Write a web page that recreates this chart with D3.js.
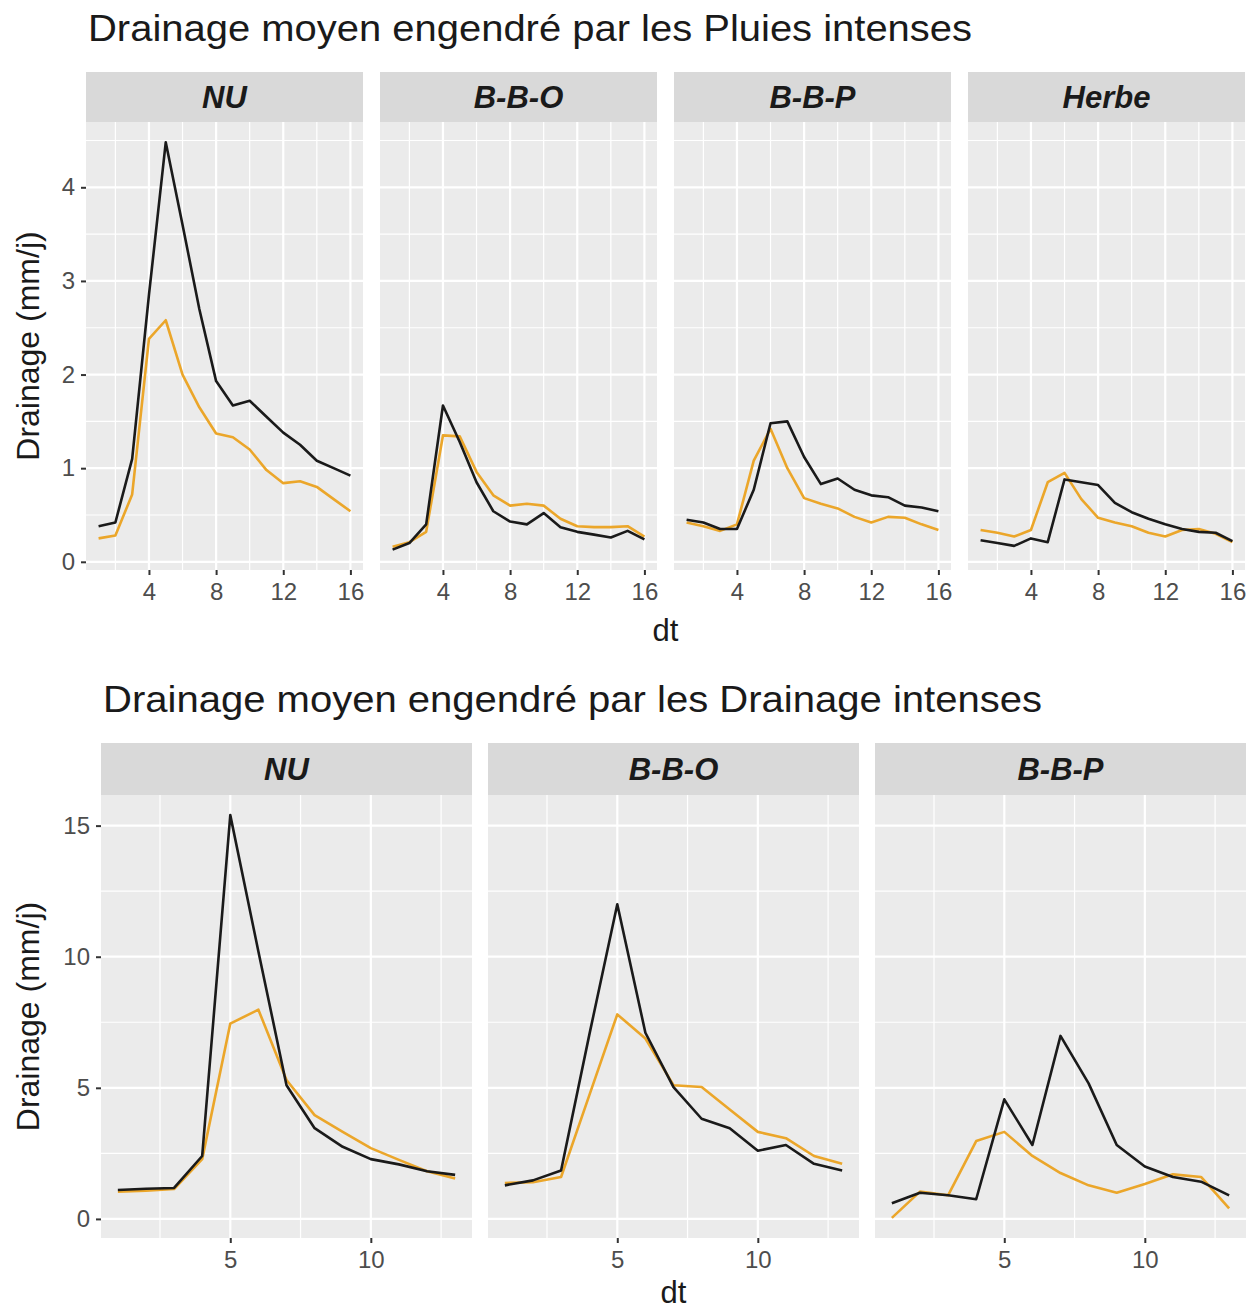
<!DOCTYPE html>
<html><head><meta charset="utf-8">
<script src="https://cdn.jsdelivr.net/npm/d3@7"></script>
<style>body{margin:0;background:#fff}svg{display:block;font-family:"Liberation Sans",Arial,sans-serif}</style>
</head><body>
<svg id="chart" width="1255" height="1315"></svg>
<script>
// ---------- DATA ----------
const titleTop = "Drainage moyen engendré par les Pluies intenses";
const titleBottom = "Drainage moyen engendré par les Drainage intenses";
const yTitle = "Drainage (mm/j)";
const xTitle = "dt";

const topFacets = ["NU", "B-B-O", "B-B-P", "Herbe"];
const topDt = [1,2,3,4,5,6,7,8,9,10,11,12,13,14,15,16];
const topBlack = {
  "NU":    [0.38,0.42,1.10,2.85,4.48,3.60,2.70,1.93,1.67,1.72,1.55,1.38,1.25,1.08,1.00,0.92],
  "B-B-O": [0.13,0.20,0.40,1.67,1.28,0.85,0.54,0.43,0.40,0.52,0.37,0.32,0.29,0.26,0.33,0.24],
  "B-B-P": [0.45,0.42,0.35,0.35,0.77,1.48,1.50,1.12,0.83,0.89,0.77,0.71,0.69,0.60,0.58,0.54],
  "Herbe": [0.23,0.20,0.17,0.25,0.21,0.88,0.85,0.82,0.63,0.53,0.46,0.40,0.35,0.32,0.31,0.22]
};
const topOrange = {
  "NU":    [0.25,0.28,0.72,2.38,2.58,2.00,1.65,1.37,1.33,1.20,0.98,0.84,0.86,0.80,0.67,0.54],
  "B-B-O": [0.16,0.21,0.32,1.35,1.34,0.96,0.71,0.60,0.62,0.60,0.46,0.38,0.37,0.37,0.38,0.27],
  "B-B-P": [0.42,0.38,0.33,0.40,1.08,1.42,1.00,0.68,0.62,0.57,0.48,0.42,0.48,0.47,0.40,0.34],
  "Herbe": [0.34,0.31,0.27,0.34,0.85,0.95,0.67,0.47,0.42,0.38,0.31,0.27,0.34,0.35,0.30,0.21]
};
const topXTicks = [4,8,12,16];
const topXMinor = [2,6,10,14];
const topYTicks = [0,1,2,3,4];
const topYMinor = [0.5,1.5,2.5,3.5,4.5];

const botFacets = ["NU", "B-B-O", "B-B-P"];
const botDt = [1,2,3,4,5,6,7,8,9,10,11,12,13];
const botBlack = {
  "NU":    [1.10,1.15,1.18,2.40,15.40,10.20,5.10,3.46,2.75,2.28,2.08,1.82,1.68],
  "B-B-O": [1.28,1.47,1.85,7.00,12.00,7.10,5.03,3.82,3.46,2.60,2.82,2.10,1.85],
  "B-B-P": [0.60,1.00,0.90,0.75,4.56,2.82,6.98,5.17,2.82,2.00,1.60,1.42,0.90]
};
const botOrange = {
  "NU":    [1.04,1.08,1.14,2.28,7.45,7.98,5.30,3.96,3.32,2.70,2.25,1.82,1.54],
  "B-B-O": [1.37,1.40,1.60,4.70,7.80,6.88,5.10,5.03,4.17,3.32,3.08,2.40,2.10],
  "B-B-P": [0.04,1.04,0.90,2.97,3.32,2.40,1.75,1.28,1.00,1.33,1.70,1.60,0.40]
};
const botXTicks = [5,10];
const botXMinor = [2.5,7.5,12.5];
const botYTicks = [0,5,10,15];
const botYMinor = [2.5,7.5,12.5];

// ---------- STYLE ----------
const colBlack = "#1a1a1a";
const colOrange = "#EBA62A";
const panelBg = "#EBEBEB";
const stripBg = "#D9D9D9";
const tickCol = "#4D4D4D";

const svg = d3.select("#chart");

function expandDomain(vals){
  const [a,b] = d3.extent(vals); const e = (b-a)*0.05; return [a-e, b+e];
}

function drawRow(cfg){
  const g = svg.append("g");
  g.append("text").attr("x", cfg.titleX).attr("y", cfg.titleY)
    .attr("font-size", 37).attr("fill", "#1a1a1a")
    .attr("textLength", cfg.titleLen).attr("lengthAdjust", "spacingAndGlyphs")
    .text(cfg.title);

  const x = d3.scaleLinear().domain(expandDomain(cfg.dt)).range([0, cfg.panelW]);
  const allY = [];
  cfg.facets.forEach(f => { allY.push(...cfg.black[f], ...cfg.orange[f]); });
  const y = d3.scaleLinear().domain(expandDomain(allY)).range([cfg.plotBottom, cfg.plotTop]);

  const line = d3.line().x((d,i)=>x(cfg.dt[i])).y(d=>y(d));

  cfg.facets.forEach((f, k) => {
    const px = cfg.panelX[k];
    const p = g.append("g").attr("transform", `translate(${px},0)`);
    // strip
    p.append("rect").attr("x",0).attr("y",cfg.stripTop).attr("width",cfg.panelW)
      .attr("height",cfg.plotTop-cfg.stripTop).attr("fill",stripBg);
    p.append("text").attr("x",cfg.panelW/2).attr("y",(cfg.stripTop+cfg.plotTop)/2)
      .attr("dy","0.36em").attr("text-anchor","middle").attr("font-size",31)
      .attr("font-weight","bold").attr("font-style","italic").attr("fill","#1a1a1a").text(f);
    // panel
    p.append("rect").attr("x",0).attr("y",cfg.plotTop).attr("width",cfg.panelW)
      .attr("height",cfg.plotBottom-cfg.plotTop).attr("fill",panelBg);
    // grid
    cfg.yMinor.forEach(v => p.append("line").attr("x1",0).attr("x2",cfg.panelW)
      .attr("y1",y(v)).attr("y2",y(v)).attr("stroke","#fff").attr("stroke-width",1.2));
    cfg.xMinor.forEach(v => p.append("line").attr("y1",cfg.plotTop).attr("y2",cfg.plotBottom)
      .attr("x1",x(v)).attr("x2",x(v)).attr("stroke","#fff").attr("stroke-width",1.2));
    cfg.yTicks.forEach(v => p.append("line").attr("x1",0).attr("x2",cfg.panelW)
      .attr("y1",y(v)).attr("y2",y(v)).attr("stroke","#fff").attr("stroke-width",2.2));
    cfg.xTicks.forEach(v => p.append("line").attr("y1",cfg.plotTop).attr("y2",cfg.plotBottom)
      .attr("x1",x(v)).attr("x2",x(v)).attr("stroke","#fff").attr("stroke-width",2.2));
    // lines
    p.append("path").datum(cfg.orange[f]).attr("d",line).attr("fill","none")
      .attr("stroke",colOrange).attr("stroke-width",2.6).attr("stroke-linejoin","round");
    p.append("path").datum(cfg.black[f]).attr("d",line).attr("fill","none")
      .attr("stroke",colBlack).attr("stroke-width",2.6).attr("stroke-linejoin","round");
    // x axis
    const xa = p.append("g").attr("transform",`translate(0,${cfg.plotBottom})`)
      .call(d3.axisBottom(x).tickValues(cfg.xTicks).tickFormat(d3.format("d")).tickSize(5).tickPadding(8));
    xa.select(".domain").remove();
    xa.selectAll(".tick line").attr("stroke","#333").attr("stroke-width",2);
    xa.selectAll("text").attr("font-size",24).attr("fill",tickCol)
      .attr("font-family","Liberation Sans, Arial, sans-serif");
    if (k === 0){
      const ya = p.append("g").call(d3.axisLeft(y).tickValues(cfg.yTicks).tickFormat(d3.format("d")).tickSize(5).tickPadding(6));
      ya.select(".domain").remove();
      ya.selectAll(".tick line").attr("stroke","#333").attr("stroke-width",2);
      ya.selectAll("text").attr("font-size",24).attr("fill",tickCol)
        .attr("font-family","Liberation Sans, Arial, sans-serif");
    }
  });

  // axis titles
  const cx = (cfg.panelX[0] + cfg.panelX[cfg.panelX.length-1] + cfg.panelW)/2;
  g.append("text").attr("x",cx).attr("y",cfg.xTitleY).attr("text-anchor","middle")
    .attr("font-size",31).attr("fill","#1a1a1a").text(xTitle);
  const cy = (cfg.plotTop+cfg.plotBottom)/2;
  g.append("text").attr("transform",`translate(${cfg.yTitleX},${cy}) rotate(-90)`)
    .attr("text-anchor","middle").attr("font-size",32).attr("fill","#1a1a1a").text(yTitle);
}

drawRow({
  title: titleTop, titleX: 88, titleY: 41, titleLen: 884,
  facets: topFacets, dt: topDt, black: topBlack, orange: topOrange,
  panelX: [86, 380, 674, 968], panelW: 277,
  stripTop: 72, plotTop: 122, plotBottom: 570,
  xTicks: topXTicks, xMinor: topXMinor, yTicks: topYTicks, yMinor: topYMinor,
  xTitleY: 641, yTitleX: 39
});

drawRow({
  title: titleBottom, titleX: 103, titleY: 712, titleLen: 939,
  facets: botFacets, dt: botDt, black: botBlack, orange: botOrange,
  panelX: [101, 488, 875], panelW: 371,
  stripTop: 743, plotTop: 795, plotBottom: 1238,
  xTicks: botXTicks, xMinor: botXMinor, yTicks: botYTicks, yMinor: botYMinor,
  xTitleY: 1303, yTitleX: 39
});
</script>
</body></html>
